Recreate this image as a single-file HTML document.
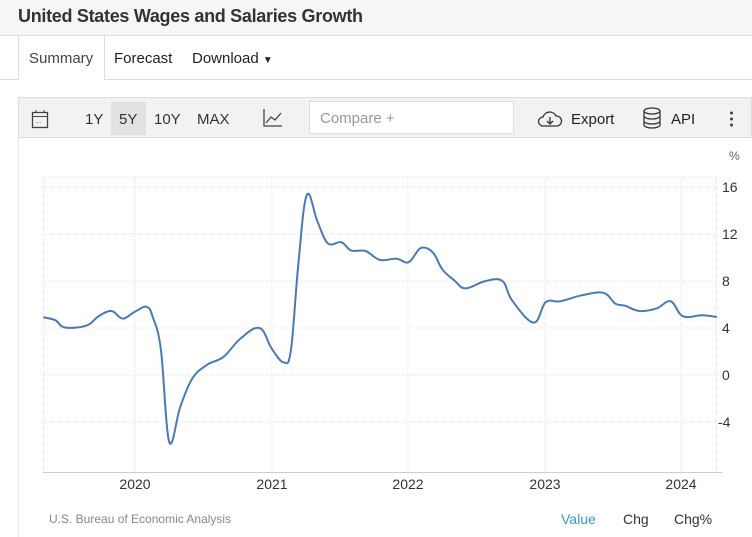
<!DOCTYPE html>
<html><head><meta charset="utf-8"><style>
body{margin:0;width:752px;height:537px;background:#fff;font-family:"Liberation Sans",Arial,sans-serif;position:relative;overflow:hidden}
.a{position:absolute;white-space:nowrap}
</style></head><body>
<div class="a" style="left:0;top:0;width:752px;height:35px;background:#f6f6f6;border-bottom:1px solid #ddd"></div>
<div class="a" style="left:18px;top:6px;font-size:18px;font-weight:bold;color:#333;letter-spacing:-0.3px">United States Wages and Salaries Growth</div>
<div class="a" style="left:0;top:79px;width:752px;height:1px;background:#ddd"></div>
<div class="a" style="left:18px;top:36px;width:85px;height:44px;background:#fff;border-left:1px solid #ddd;border-right:1px solid #ddd"></div>
<div class="a" style="left:29px;top:50px;font-size:15px;color:#444">Summary</div>
<div class="a" style="left:114px;top:50px;font-size:15px;color:#222">Forecast</div>
<div class="a" style="left:192px;top:50px;font-size:15px;color:#222">Download <span style="font-size:10px">▼</span></div>
<div class="a" style="left:18px;top:97px;width:734px;height:41px;background:#f2f2f2;border:1px solid #ddd;box-sizing:border-box"></div>
<div class="a" style="left:18px;top:138px;width:1px;height:399px;background:#eee"></div>
<svg class="a" style="left:31px;top:109px" width="18" height="20"><rect x="1.5" y="3.5" width="15" height="15" fill="none" stroke="#444" stroke-width="1.3"/><line x1="1.5" y1="7.5" x2="16.5" y2="7.5" stroke="#444"/><line x1="5" y1="1" x2="5" y2="4" stroke="#444"/><line x1="13" y1="1" x2="13" y2="4" stroke="#444"/><text x="5" y="14" font-size="6" fill="#444">...</text></svg>
<div class="a" style="left:111px;top:102px;width:35px;height:33px;background:#e2e2e2"></div>
<div class="a" style="left:85px;top:111px;font-size:15px;color:#333">1Y</div>
<div class="a" style="left:119px;top:111px;font-size:15px;color:#333">5Y</div>
<div class="a" style="left:154px;top:111px;font-size:15px;color:#333">10Y</div>
<div class="a" style="left:197px;top:111px;font-size:15px;color:#333">MAX</div>
<svg class="a" style="left:263px;top:108px" width="20" height="20"><path d="M1 1V18H19" fill="none" stroke="#444" stroke-width="1.3"/><path d="M3 15L8 9L12 12L18 5" fill="none" stroke="#444" stroke-width="1.3"/></svg>
<div class="a" style="left:309px;top:101px;width:205px;height:33px;background:#fff;border:1px solid #ddd;box-sizing:border-box"></div>
<div class="a" style="left:320px;top:110px;font-size:15px;color:#999">Compare +</div>
<svg class="a" style="left:537px;top:109px" width="26" height="20"><path d="M6 17H20A5 5 0 0 0 19 7A7 7 0 0 0 6 8A4.5 4.5 0 0 0 6 17Z" fill="none" stroke="#333" stroke-width="1.3"/><path d="M13 8V15M10 12L13 15L16 12" fill="none" stroke="#333" stroke-width="1.3"/></svg>
<div class="a" style="left:571px;top:111px;font-size:15px;color:#222">Export</div>
<svg class="a" style="left:642px;top:107px" width="20" height="22"><ellipse cx="10" cy="4" rx="8" ry="3" fill="none" stroke="#333" stroke-width="1.3"/><path d="M2 4V18A8 3 0 0 0 18 18V4M2 9A8 3 0 0 0 18 9M2 14A8 3 0 0 0 18 14" fill="none" stroke="#333" stroke-width="1.3"/></svg>
<div class="a" style="left:671px;top:111px;font-size:15px;color:#222">API</div>
<div class="a" style="left:730px;top:110px;width:3px;height:18px;background:radial-gradient(circle,#444 1.4px,transparent 1.6px) 0 0/3px 6px"></div>
<div class="a" style="left:729px;top:149px;font-size:12px;color:#666">%</div>
<svg class="a" style="left:0;top:0" width="752" height="537">
<g stroke="#e4e4e4" stroke-dasharray="1,1" fill="none">
<line x1="43" y1="177" x2="716" y2="177"/>
<line x1="43" y1="187" x2="716" y2="187"/><line x1="43" y1="234" x2="716" y2="234"/><line x1="43" y1="281" x2="716" y2="281"/><line x1="43" y1="328" x2="716" y2="328"/><line x1="43" y1="375" x2="716" y2="375"/><line x1="43" y1="422" x2="716" y2="422"/>
<line x1="135" y1="177" x2="135" y2="472"/><line x1="272" y1="177" x2="272" y2="472"/><line x1="408" y1="177" x2="408" y2="472"/><line x1="545" y1="177" x2="545" y2="472"/><line x1="681" y1="177" x2="681" y2="472"/>
<line x1="43.5" y1="177" x2="43.5" y2="472"/><line x1="716.5" y1="177" x2="716.5" y2="472"/>
</g>
<line x1="43" y1="472.5" x2="722" y2="472.5" stroke="#ccc"/>
<g font-size="14" fill="#333" font-family="Liberation Sans,Arial,sans-serif">
<text x="722" y="192">16</text><text x="722" y="239">12</text><text x="722" y="286">8</text><text x="722" y="333">4</text><text x="722" y="380">0</text><text x="718" y="427">-4</text>
<text x="135" y="489" text-anchor="middle">2020</text><text x="272" y="489" text-anchor="middle">2021</text><text x="408" y="489" text-anchor="middle">2022</text><text x="545" y="489" text-anchor="middle">2023</text><text x="681" y="489" text-anchor="middle">2024</text>
</g>
<path id="ln" fill="none" stroke="#4a7ab5" stroke-width="2" stroke-linejoin="round" stroke-linecap="round" d="M44,317.4 L55.3,320.2 L64.9,327.5 L86.5,325.6 L98.6,316.2 L111.5,311 L122.6,318.6 L134.6,311.9 L146.6,306.8 L152.9,317.4 L161,350.3 L169.2,442 L180.3,406.7 L192.3,378.5 L206.7,365 L223.6,356.8 L240.4,338.6 L259.6,328 L271.6,348.4 L283.7,362.4 L290.9,350.3 L298.1,266.9 L306.7,195.2 L317.3,221.1 L327.9,243.4 L341.3,242.2 L351,250.5 L365.4,251 L379.8,259.9 L396.6,258.7 L408.7,262.2 L420.7,248.1 L432.7,252.3 L442.3,269.3 L454.3,280.4 L465.4,288.4 L485.6,281 L502.4,281 L512,300.3 L533.7,322.6 L545.7,302.2 L560.1,301.3 L581.7,295.3 L603.4,292.8 L615.4,303.7 L625,305.7 L639.4,311 L656.3,308.6 L670.7,301.3 L682.7,316.2 L701.9,315.3 L716.3,316.9"/>
</svg>
<script>
(function(){var p=[44,317.4,55.3,320.2,64.9,327.5,86.5,325.6,98.6,316.2,111.5,311,122.6,318.6,134.6,311.9,146.6,306.8,152.9,317.4,161,350.3,169.2,442,180.3,406.7,192.3,378.5,206.7,365,223.6,356.8,240.4,338.6,259.6,328,271.6,348.4,283.7,362.4,290.9,350.3,298.1,266.9,306.7,195.2,317.3,221.1,327.9,243.4,341.3,242.2,351,250.5,365.4,251,379.8,259.9,396.6,258.7,408.7,262.2,420.7,248.1,432.7,252.3,442.3,269.3,454.3,280.4,465.4,288.4,485.6,281,502.4,281,512,300.3,533.7,322.6,545.7,302.2,560.1,301.3,581.7,295.3,603.4,292.8,615.4,303.7,625,305.7,639.4,311,656.3,308.6,670.7,301.3,682.7,316.2,701.9,315.3,716.3,316.9];
var n=p.length/2,X=function(i){i=Math.max(0,Math.min(n-1,i));return p[2*i]},Y=function(i){i=Math.max(0,Math.min(n-1,i));return p[2*i+1]},t=0.18;
var d="M"+X(0)+","+Y(0);
for(var i=0;i<n-1;i++){d+=" C"+(X(i)+(X(i+1)-X(i-1))*t).toFixed(1)+","+(Y(i)+(Y(i+1)-Y(i-1))*t).toFixed(1)+" "+(X(i+1)-(X(i+2)-X(i))*t).toFixed(1)+","+(Y(i+1)-(Y(i+2)-Y(i))*t).toFixed(1)+" "+X(i+1)+","+Y(i+1);}
document.getElementById("ln").setAttribute("d",d);})();
</script>
<div class="a" style="left:49px;top:512px;font-size:12px;color:#888">U.S. Bureau of Economic Analysis</div>
<div class="a" style="left:561px;top:511px;font-size:14px;color:#3a9ad9">Value</div>
<div class="a" style="left:623px;top:511px;font-size:14px;color:#333">Chg</div>
<div class="a" style="left:674px;top:511px;font-size:14px;color:#333">Chg%</div>
</body></html>
